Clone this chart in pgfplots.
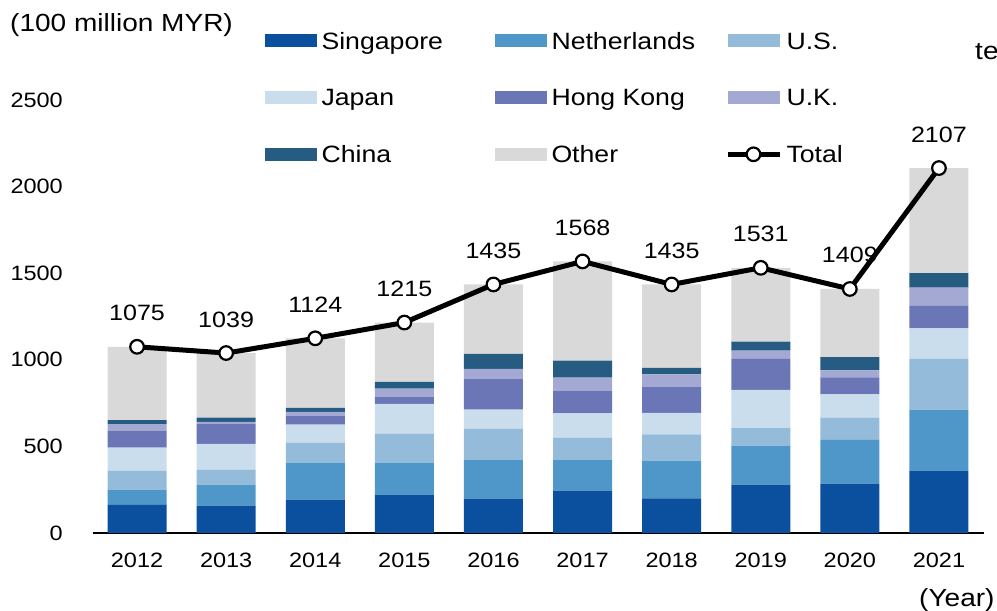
\documentclass[border=0pt]{standalone}
\usepackage{fontspec}
\setmainfont{Liberation Sans}[FakeStretch=1.13]
\usepackage{pgfplots}
\usepackage{pgfplotstable}
\pgfplotsset{compat=1.18}
\definecolor{csing}{HTML}{0B4F9F}
\definecolor{cneth}{HTML}{4F96C9}
\definecolor{cus}{HTML}{94BCDA}
\definecolor{cjap}{HTML}{C9DDED}
\definecolor{chk}{HTML}{6A76B5}
\definecolor{cuk}{HTML}{A3A9D2}
\definecolor{cchn}{HTML}{265C82}
\definecolor{coth}{HTML}{D9D9D9}
\newcommand\tickfont{\fontsize{20.8bp}{24bp}\selectfont}
\newcommand\legfont{\fontsize{23.6bp}{28bp}\selectfont}
\newcommand\titfont{\fontsize{24.8bp}{29bp}\selectfont}
\newcommand\totfont{\fontsize{22.2bp}{26bp}\selectfont}
\pgfplotstableread{
x sing neth us jap hk uk chn oth tot
0 163 85 112 133 98 38 23 423 1075
1 158 121 87 148 114 13 25 373 1039
2 192 214 115 104 52 22 23 402 1124
3 221 185 167 172 42 46 39 343 1215
4 198 225 179 110 179 56 87 401 1435
5 244 179 127 141 131 75 98 573 1568
6 200 218 152 123 152 71 37 482 1435
7 279 225 102 221 178 48 52 426 1531
8 285 252 129 135 98 40 77 393 1409
9 360 352 294 176 129 105 84 607 2107
}\datatable
\pgfplotsset{rect legend/.style={legend image code/.code={\fill[##1] (0bp,-6.5bp) rectangle (52bp,6.5bp);}}}
\newcommand\legent[1]{\makebox[173.5bp][l]{#1}}
\begin{document}
\begin{tikzpicture}
\begin{axis}[
  at={(92.5bp,78bp)}, anchor=south west,
  scale only axis, width=891bp, height=433bp,
  xmin=-0.5, xmax=9.5, ymin=0, ymax=2500,
  ybar stacked, bar width=59bp,
  axis x line*=bottom, axis y line*=left,
  y axis line style={draw=none},
  x axis line style={line width=2bp, black},
  xtick={0,1,2,3,4,5,6,7,8,9},
  xticklabels={2012,2013,2014,2015,2016,2017,2018,2019,2020,2021},
  ytick={0,500,1000,1500,2000,2500},
  major tick length=0pt, tick style={draw=none},
  /pgf/number format/assume math mode=true,
  /pgf/number format/1000 sep={},
  xticklabel style={font=\tickfont, inner sep=0pt, yshift=-20bp},
  yticklabel style={font=\tickfont, inner sep=0pt, xshift=-29.5bp},
  clip=false,
  legend columns=3,
  legend style={at={(axis description cs:0.1936,1.1563)}, anchor=north west,
    draw=none, fill=none, inner sep=0pt, outer sep=0pt, row sep=40bp,
    nodes={inner sep=0pt, text height=16.8bp, text depth=0bp, font=\legfont},
    /tikz/every odd column/.style={column sep=4.5bp},
    /tikz/every even column/.style={column sep=0pt}},
]
\addplot[fill=csing, draw=none, rect legend] table[x=x,y=sing]{\datatable};
\addlegendentry{\legent{Singapore}}
\addplot[fill=cneth, draw=none, rect legend] table[x=x,y=neth]{\datatable};
\addlegendentry{\legent{Netherlands}}
\addplot[fill=cus, draw=none, rect legend] table[x=x,y=us]{\datatable};
\addlegendentry{\legent{U.S.}}
\addplot[fill=cjap, draw=none, rect legend] table[x=x,y=jap]{\datatable};
\addlegendentry{\legent{Japan}}
\addplot[fill=chk, draw=none, rect legend] table[x=x,y=hk]{\datatable};
\addlegendentry{\legent{Hong Kong}}
\addplot[fill=cuk, draw=none, rect legend] table[x=x,y=uk]{\datatable};
\addlegendentry{\legent{U.K.}}
\addplot[fill=cchn, draw=none, rect legend] table[x=x,y=chn]{\datatable};
\addlegendentry{\legent{China}}
\addplot[fill=coth, draw=none, rect legend] table[x=x,y=oth]{\datatable};
\addlegendentry{\legent{Other}}
\addlegendimage{black, line width=5bp, legend image code/.code={\draw[black, line width=5bp] (0bp,0bp) -- (52bp,0bp); \draw[black, fill=white, line width=2.2bp] (26bp,0bp) circle (6.8bp);}}
\addlegendentry{\legent{Total}}
\end{axis}
\begin{axis}[
  at={(92.5bp,78bp)}, anchor=south west,
  scale only axis, width=891bp, height=433bp,
  xmin=-0.5, xmax=9.5, ymin=0, ymax=2500,
  hide axis, clip=false,
  /pgf/number format/assume math mode=true,
  /pgf/number format/1000 sep={},
]
\addplot[black, line width=5bp, mark=*, mark size=6.8bp,
  mark options={fill=white, draw=black, line width=2.2bp},
  nodes near coords,
  every node near coord/.append style={font=\totfont, anchor=base, inner sep=0pt, yshift=26bp, black}]
  table[x=x,y=tot]{\datatable};
\end{axis}
\node[anchor=base west, inner sep=0pt, font=\titfont] at (10bp,579.3bp) {(100 million MYR)};
\node[anchor=base west, inner sep=0pt, font=\titfont] at (919bp,5bp) {(Year)};
\node[anchor=base west, inner sep=0pt, font=\titfont] at (975bp,551bp) {te};
\pgfresetboundingbox
\path[use as bounding box] (0,0) rectangle (997bp,611bp);
\end{tikzpicture}
\end{document}
